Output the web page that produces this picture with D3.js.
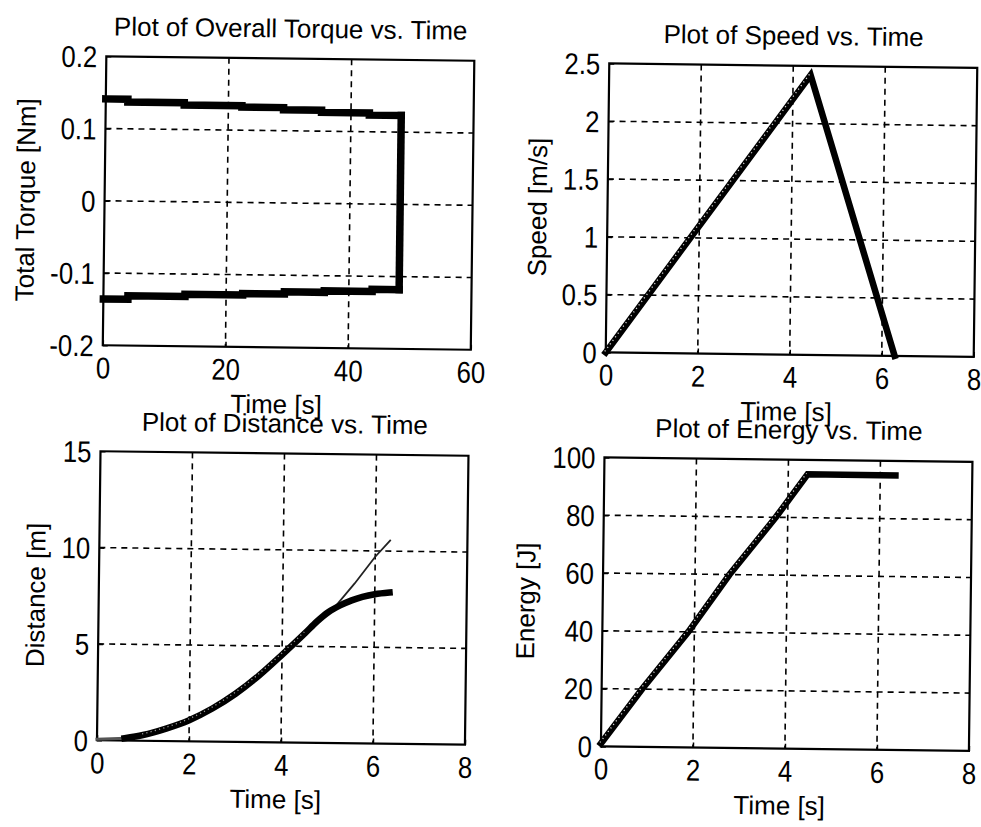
<!DOCTYPE html>
<html>
<head>
<meta charset="utf-8">
<script src="https://cdnjs.cloudflare.com/ajax/libs/d3/7.8.5/d3.min.js"></script>
<style>
    body { margin: 0; background: #fff; }
    text { font-family: "Liberation Sans", Arial, Helvetica, sans-serif; fill: #000; }
</style>
</head>
<body>
<div id="chart"></div>
<script>

// ---- data ----

// torque: stepped upper and lower branches, joined by a vertical drop
var torqueUpperTime = [0, 3.6, 12.8, 22.2, 29, 35.2, 43, 48.2];
var torqueUpper     = [0.141, 0.137, 0.134, 0.132, 0.129, 0.126, 0.123, 0.123];
var torqueLowerTime = [0, 4, 13.3, 22.7, 29.5, 36, 43.8, 48.2];
var torqueLower     = [-0.136, -0.131, -0.128, -0.126, -0.123, -0.121, -0.118, -0.118];

// speed
var speedTime  = [0, 4.38, 6.28];
var speedValue = [0, 2.42, 0];

// distance (thick = actual, thin = continued acceleration)
var distTime  = [0, 0.6, 1.0, 1.5, 2.0, 2.5, 3.0, 3.5, 4.0, 4.5, 4.75, 5.0, 5.25, 5.5, 6.0, 6.32];
var distValue = [0.05, 0.12, 0.3, 0.65, 1.1, 1.72, 2.5, 3.45, 4.55, 5.7, 6.3, 6.8, 7.15, 7.42, 7.75, 7.85];
var distThinTime  = [4.9, 5.13, 5.56, 6.0, 6.32];
var distThinValue = [6.6, 7.05, 8.3, 9.7, 10.55];

// energy
var energyTime  = [0, 0.88, 1.87, 2.75, 3.74, 4.42, 6.33];
var energyValue = [1, 20, 40, 60, 80, 95, 95];

// tick labels
var torqueXTicks = [0, 20, 40, 60];
var torqueYTicks = [0.2, 0.1, 0, -0.1, -0.2];
var timeXTicks   = [0, 2, 4, 6, 8];
var speedYTicks  = [0, 0.5, 1, 1.5, 2, 2.5];
var distYTicks   = [0, 5, 10, 15];
var energyYTicks = [0, 20, 40, 60, 80, 100];


Panel = function(_parent, _opts) {
    this.parent = _parent;
    this.opts = _opts;
    this.initVis();
}

Panel.prototype.initVis = function() {
    var vis = this;
    var o = vis.opts;

    vis.width = 368;
    vis.height = 289;

    vis.g = vis.parent.append("g")
        .attr("transform", "translate(" + o.left + "," + o.top + ")");

    vis.x = d3.scaleLinear().domain(o.xDomain).range([0, vis.width]);
    vis.y = d3.scaleLinear().domain(o.yDomain).range([vis.height, 0]);

    var fmt = function(d) { return String(d).replace("\u2212", "-"); };

    // dashed grid
    vis.g.append("g")
        .attr("class", "grid")
        .selectAll("line.gx")
        .data(o.xTicks.slice(1, -1))
        .enter().append("line")
        .attr("x1", function(d) { return vis.x(d); })
        .attr("x2", function(d) { return vis.x(d); })
        .attr("y1", 0)
        .attr("y2", vis.height);
    vis.g.select(".grid")
        .selectAll("line.gy")
        .data(o.yTicks.filter(function(d) { return d !== o.yDomain[0] && d !== o.yDomain[1]; }))
        .enter().append("line")
        .attr("class", "gy")
        .attr("x1", 0)
        .attr("x2", vis.width)
        .attr("y1", function(d) { return vis.y(d); })
        .attr("y2", function(d) { return vis.y(d); });
    vis.g.selectAll(".grid line")
        .style("stroke", "#000")
        .style("stroke-width", 1.6)
        .style("stroke-dasharray", "6,5");

    // tick labels (narrow, tall MATLAB-ish digits)
    var xAxis = d3.axisBottom(vis.x).tickValues(o.xTicks).tickFormat(fmt).tickSize(4).tickPadding(4);
    var yAxis = d3.axisLeft(vis.y).tickValues(o.yTicks).tickFormat(fmt).tickSize(4).tickPadding(6);

    vis.g.append("g")
        .attr("transform", "translate(0," + vis.height + ")")
        .call(xAxis)
        .call(function(g) {
            g.select(".domain").remove();
            g.selectAll(".tick line").attr("y2", -5).attr("stroke-width", 1.5);
            g.selectAll(".tick text")
                .attr("y", 0).attr("dy", 0)
                .attr("transform", "translate(0,33) scale(0.86,1)")
                .style("font-size", "30px")
                .style("font-family", "'Liberation Sans', Arial, sans-serif");
        });

    vis.g.append("g")
        .call(yAxis)
        .call(function(g) {
            g.select(".domain").remove();
            g.selectAll(".tick line").attr("x2", 5).attr("stroke-width", 1.5);
            g.selectAll(".tick text")
                .attr("x", 0).attr("dy", 0)
                .attr("transform", "translate(-9,10.5) scale(0.86,1)")
                .style("font-size", "30px")
                .style("font-family", "'Liberation Sans', Arial, sans-serif");
        });

    // box
    vis.g.append("rect")
        .attr("width", vis.width)
        .attr("height", vis.height)
        .attr("fill", "none")
        .attr("stroke", "#000")
        .attr("stroke-width", 2.2);

    // title + labels
    vis.g.append("text")
        .attr("x", vis.width / 2)
        .attr("y", -21)
        .attr("text-anchor", "middle")
        .style("font-size", "26px")
        .text(o.title);

    vis.g.append("text")
        .attr("x", vis.width / 2 + o.xLabelShift)
        .attr("y", vis.height + 66)
        .attr("text-anchor", "middle")
        .style("font-size", "26px")
        .text(o.xLabel);

    vis.g.append("text")
        .attr("transform", "translate(" + o.yLabelX + "," + (vis.height / 2) + ") rotate(-90)")
        .attr("text-anchor", "middle")
        .style("font-size", "26px")
        .text(o.yLabel);

    vis.plot = vis.g.append("g");
}

// draw one series from a time array and a value array
Panel.prototype.addLine = function(xs, ys, width, curve, color) {
    var vis = this;
    var pts = xs.map(function(t, i) { return [t, ys[i]]; });
    var line = d3.line()
        .x(function(d) { return vis.x(d[0]); })
        .y(function(d) { return vis.y(d[1]); })
        .curve(curve || d3.curveLinear);
    return vis.plot.append("path")
        .datum(pts)
        .attr("d", line)
        .attr("fill", "none")
        .attr("stroke", color || "#000")
        .attr("stroke-width", width)
        .attr("stroke-linejoin", "miter")
        .attr("stroke-linecap", "square");
}

// light speckle seen inside the thick lines of the scan
Panel.prototype.addSpeckle = function(xs, ys, curve, opacity) {
    this.addLine(xs, ys, 1.3, curve, "#fff")
        .attr("stroke-dasharray", "1.2,3.2")
        .attr("stroke-linecap", "butt")
        .attr("transform", "translate(-1,-1)")
        .attr("opacity", opacity || 0.85);
}


var svg = d3.select("#chart").append("svg")
    .attr("width", 981)
    .attr("height", 827);

svg.append("rect").attr("width", 981).attr("height", 827).attr("fill", "#fff");

// the scan is slightly skewed
var page = svg.append("g").attr("transform", "rotate(0.7,490,413)");

var torque = new Panel(page, {
    left: 102, top: 61,
    xDomain: [0, 60], yDomain: [-0.2, 0.2],
    xTicks: torqueXTicks, yTicks: torqueYTicks,
    title: "Plot of Overall Torque vs. Time",
    xLabel: "Time [s]", xLabelShift: -10,
    yLabel: "Total Torque [Nm]", yLabelX: -70
});
torque.addLine(torqueUpperTime, torqueUpper, 7.5, d3.curveStepAfter);
torque.addLine(torqueLowerTime, torqueLower, 7.5, d3.curveStepAfter);
torque.addLine([torqueUpperTime[7], torqueLowerTime[7]], [torqueUpper[7], torqueLower[7]], 7.5);

var speed = new Panel(page, {
    left: 605, top: 62,
    xDomain: [0, 8], yDomain: [0, 2.5],
    xTicks: timeXTicks, yTicks: speedYTicks,
    title: "Plot of Speed vs. Time",
    xLabel: "Time [s]", xLabelShift: -3,
    yLabel: "Speed [m/s]", yLabelX: -61
});
speed.addLine(speedTime, speedValue, 6.5);
speed.addSpeckle(speedTime.slice(0, 2), speedValue.slice(0, 2));

var dist = new Panel(page, {
    left: 101, top: 456,
    xDomain: [0, 8], yDomain: [0, 15],
    xTicks: timeXTicks, yTicks: distYTicks,
    title: "Plot of Distance vs. Time",
    xLabel: "Time [s]", xLabelShift: -5,
    yLabel: "Distance [m]", yLabelX: -54
});
dist.addLine(distThinTime, distThinValue, 1.8, d3.curveLinear, "#222");
dist.addLine(distTime.slice(0, 2), distValue.slice(0, 2), 3, d3.curveLinear, "#555");
dist.addLine(distTime.slice(1), distValue.slice(1), 6.5, d3.curveMonotoneX);
dist.addSpeckle(distTime.slice(2, 10), distValue.slice(2, 10), d3.curveMonotoneX, 0.6);

var energy = new Panel(page, {
    left: 605, top: 456,
    xDomain: [0, 8], yDomain: [0, 100],
    xTicks: timeXTicks, yTicks: energyYTicks,
    title: "Plot of Energy vs. Time",
    xLabel: "Time [s]", xLabelShift: -5,
    yLabel: "Energy [J]", yLabelX: -68
});
energy.addLine(energyTime, energyValue, 6.5);
energy.addSpeckle(energyTime.slice(0, 6), energyValue.slice(0, 6));

</script>
</body>
</html>
